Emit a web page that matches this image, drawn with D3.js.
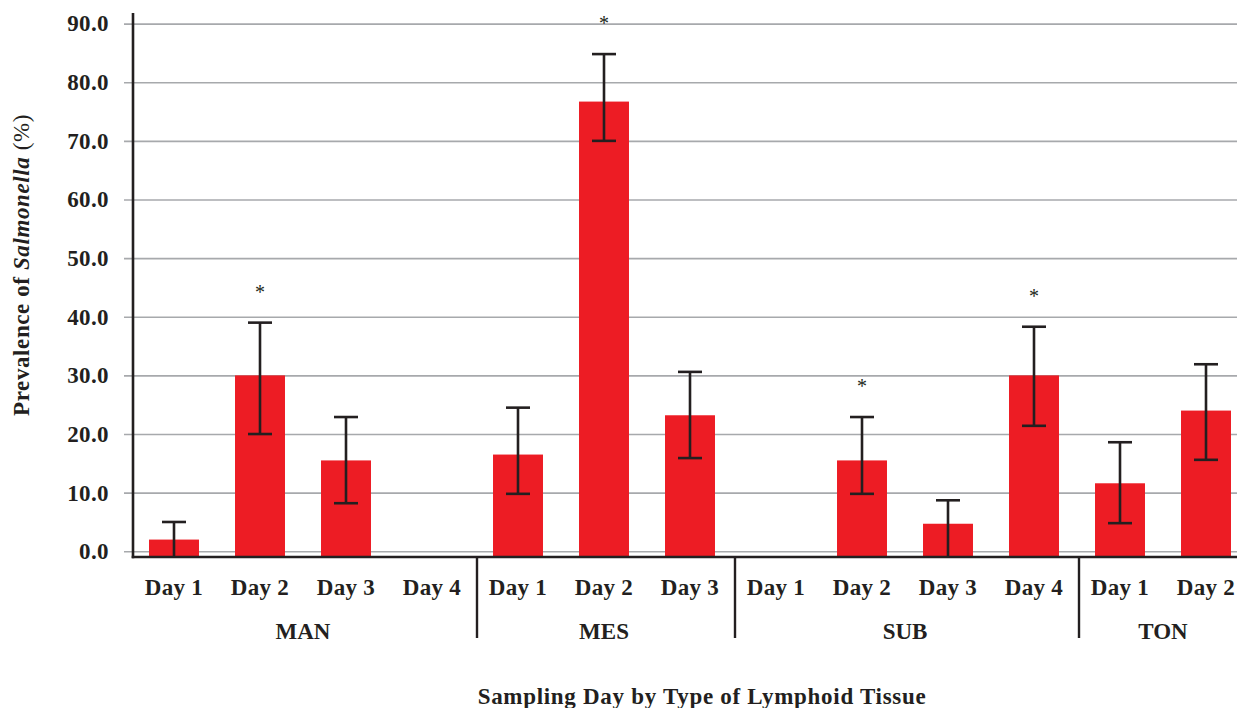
<!DOCTYPE html>
<html>
<head>
<meta charset="utf-8">
<script src="https://cdn.jsdelivr.net/npm/d3@7"></script>
<style>
  html, body { margin: 0; padding: 0; background: #fff; }
  svg { display: block; }
  text { font-family: "Liberation Serif", "DejaVu Serif", serif; font-weight: bold; fill: #231f20; }
</style>
</head>
<body>
<svg id="chart" width="1237" height="708"></svg>
<script>
// ---- data ----
const groups = ["MAN", "MES", "SUB", "TON"];
const groupDays = [
  ["Day 1", "Day 2", "Day 3", "Day 4"],
  ["Day 1", "Day 2", "Day 3"],
  ["Day 1", "Day 2", "Day 3", "Day 4"],
  ["Day 1", "Day 2"]
];
const prevalence = [2.0, 30.0, 15.5, 0.0, 16.5, 76.7, 23.2, 0.0, 15.5, 4.7, 30.0, 11.6, 24.0];
const errLow     = [0.0, 20.0,  8.2, 0.0,  9.8, 70.0, 15.9, 0.0,  9.8, 0.0, 21.4,  4.8, 15.6];
const errHigh    = [5.0, 39.0, 22.9, 0.0, 24.5, 84.8, 30.6, 0.0, 22.9, 8.7, 38.3, 18.6, 31.9];
const significant = [false, true, false, false, false, true, false, false, true, false, true, false, false];
const yTicks = [0, 10, 20, 30, 40, 50, 60, 70, 80, 90];

// ---- build categories ----
const cats = [];
groups.forEach((g, gi) => groupDays[gi].forEach(d => cats.push({ key: g + "|" + d, group: g, day: d })));
cats.forEach((c, i) => { c.value = prevalence[i]; c.lo = errLow[i]; c.hi = errHigh[i]; c.sig = significant[i]; });

const svg = d3.select("#chart");
const axisX = 133, baseY = 557;

const x = d3.scaleBand()
  .domain(cats.map(c => c.key))
  .range([131, 1249])
  .paddingInner(0.419)
  .paddingOuter(0.2095);

const y = d3.scaleLinear().domain([0, 90]).range([551.3, 23.6]);

const ink = "#231f20";

// gridlines + tick labels
const yAxis = d3.axisLeft(y).tickValues(yTicks).tickFormat(d3.format(".1f")).tickSize(-(1237 - 124)).tickPadding(15);
const gy = svg.append("g").attr("transform", `translate(124,0)`).call(yAxis);
gy.select(".domain").remove();
gy.selectAll(".tick line").attr("stroke", "#a7a9ac").attr("stroke-width", 1.6)
  .attr("x1", 0).attr("x2", 1237 - 124);
gy.selectAll(".tick text").attr("font-size", 23).attr("x", -15).attr("fill", ink)
  .style("font-family", '"Liberation Serif", serif').style("font-weight", "bold")
  .style("letter-spacing", "0.4px");

// bars
svg.append("g").selectAll("rect").data(cats.filter(c => c.value > 0)).join("rect")
  .attr("x", c => x(c.key))
  .attr("width", x.bandwidth())
  .attr("y", c => y(c.value))
  .attr("height", c => baseY - y(c.value))
  .attr("fill", "#ed1c24");

// error bars
const eb = svg.append("g").attr("stroke", ink).attr("stroke-width", 2.6);
const capW = 24;
cats.filter(c => c.hi > 0).forEach(c => {
  const cx = x(c.key) + x.bandwidth() / 2;
  const yl = c.lo > 0 ? y(c.lo) : baseY;
  eb.append("line").attr("x1", cx).attr("x2", cx).attr("y1", y(c.hi)).attr("y2", yl);
  eb.append("line").attr("x1", cx - capW / 2).attr("x2", cx + capW / 2).attr("y1", y(c.hi)).attr("y2", y(c.hi));
  if (c.lo > 0) eb.append("line").attr("x1", cx - capW / 2).attr("x2", cx + capW / 2).attr("y1", y(c.lo)).attr("y2", y(c.lo));
});

// significance asterisks
svg.append("g").selectAll("text").data(cats.filter(c => c.sig)).join("text")
  .attr("x", c => x(c.key) + x.bandwidth() / 2)
  .attr("y", c => y(c.hi) - 24)
  .attr("text-anchor", "middle")
  .attr("font-size", 20)
  .style("font-weight", "normal")
  .text("*");

// axes lines
svg.append("line").attr("x1", axisX).attr("x2", axisX).attr("y1", 13).attr("y2", baseY + 1.3)
  .attr("stroke", ink).attr("stroke-width", 2.6);
svg.append("line").attr("x1", axisX - 1.3).attr("x2", 1237).attr("y1", baseY).attr("y2", baseY)
  .attr("stroke", ink).attr("stroke-width", 2.6);

// day labels
svg.append("g").selectAll("text").data(cats).join("text")
  .attr("x", c => x(c.key) + x.bandwidth() / 2)
  .attr("y", 595)
  .attr("text-anchor", "middle")
  .attr("font-size", 23)
  .style("letter-spacing", "0.3px")
  .text(c => c.day);

// group separators & labels
const step = x.step();
let idx = 0;
groups.forEach((g, gi) => {
  const start = x.range()[0] + idx * step;
  const end = start + groupDays[gi].length * step;
  if (gi > 0) {
    svg.append("line").attr("x1", start + 2).attr("x2", start + 2).attr("y1", baseY).attr("y2", 638)
      .attr("stroke", ink).attr("stroke-width", 2.4);
  }
  svg.append("text").attr("x", (start + end) / 2).attr("y", 639).attr("text-anchor", "middle")
    .attr("font-size", 23).text(g);
  idx += groupDays[gi].length;
});

// axis titles
svg.append("text").attr("x", 702).attr("y", 704).attr("text-anchor", "middle").attr("font-size", 23)
  .style("letter-spacing", "0.7px")
  .text("Sampling Day by Type of Lymphoid Tissue");

const yt = svg.append("text").attr("transform", "translate(29,265) rotate(-90)").attr("text-anchor", "middle")
  .attr("font-size", 23).style("letter-spacing", "0.6px");
yt.append("tspan").text("Prevalence of ");
yt.append("tspan").style("font-style", "italic").text("Salmonella");
yt.append("tspan").style("font-weight", "normal").text(" (%)");
</script>
</body>
</html>
